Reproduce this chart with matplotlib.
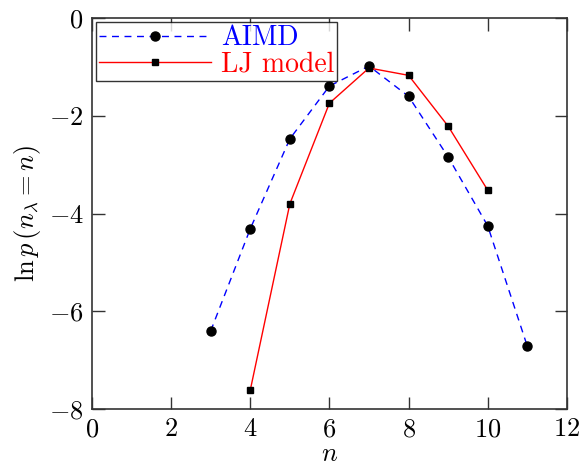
import matplotlib
matplotlib.use("Agg")
import matplotlib.pyplot as plt

plt.rcParams['font.family'] = 'serif'
plt.rcParams['font.serif'] = ['cmr10']
plt.rcParams['mathtext.fontset'] = 'cm'
plt.rcParams['axes.formatter.use_mathtext'] = True

n_aimd = [3, 4, 5, 6, 7, 8, 9, 10, 11]
lnp_aimd = [-6.40, -4.31, -2.47, -1.39, -0.98, -1.60, -2.84, -4.25, -6.71]

n_lj = [4, 5, 6, 7, 8, 9, 10]
lnp_lj = [-7.61, -3.80, -1.74, -1.02, -1.17, -2.21, -3.52]

xticks = [0, 2, 4, 6, 8, 10, 12]
yticks = [-8, -6, -4, -2, 0]

fig = plt.figure(figsize=(5.82, 4.65), dpi=100)
ax = fig.add_axes([0.158, 0.120, 0.816, 0.841])

ax.plot(n_aimd, lnp_aimd, color='blue', linestyle=(0, (5, 4)), linewidth=1.0,
        marker='o', markersize=6.5, markerfacecolor='black', markeredgecolor='black',
        label='AIMD')
ax.plot(n_lj, lnp_lj, color='red', linestyle='-', linewidth=1.0,
        marker='s', markersize=5, markerfacecolor='black', markeredgecolor='black',
        label='LJ model')

ax.set_xlim(0, 12)
ax.set_ylim(-8, 0)
ax.set_xticks(xticks)
ax.set_yticks(yticks)
ax.set_xticklabels([f'${v}$' if v >= 0 else f'$-{abs(v)}$' for v in xticks])
ax.set_yticklabels([f'${v}$' if v >= 0 else f'$-{abs(v)}$' for v in yticks])
ax.tick_params(direction='in', length=9, width=1.0, top=True, right=True,
               labelsize=19, pad=6, color='#333333')
for s in ax.spines.values():
    s.set_linewidth(1.2)
    s.set_color('#333333')

ax.set_xlabel('$n$', fontsize=19, labelpad=1)
ax.set_ylabel(r'$\ln p\,(n_\lambda = n)$', fontsize=19, labelpad=4)

leg = ax.legend(loc='upper left', fontsize=20, handlelength=4.05, handletextpad=0.35,
                numpoints=1, frameon=True, fancybox=False, borderpad=0.1,
                borderaxespad=0.15, labelspacing=0.0)
leg.get_frame().set_edgecolor('black')
leg.get_frame().set_linewidth(1.0)
for t, c in zip(leg.get_texts(), ['blue', 'red']):
    t.set_color(c)

fig.savefig('out.png', dpi=100)
